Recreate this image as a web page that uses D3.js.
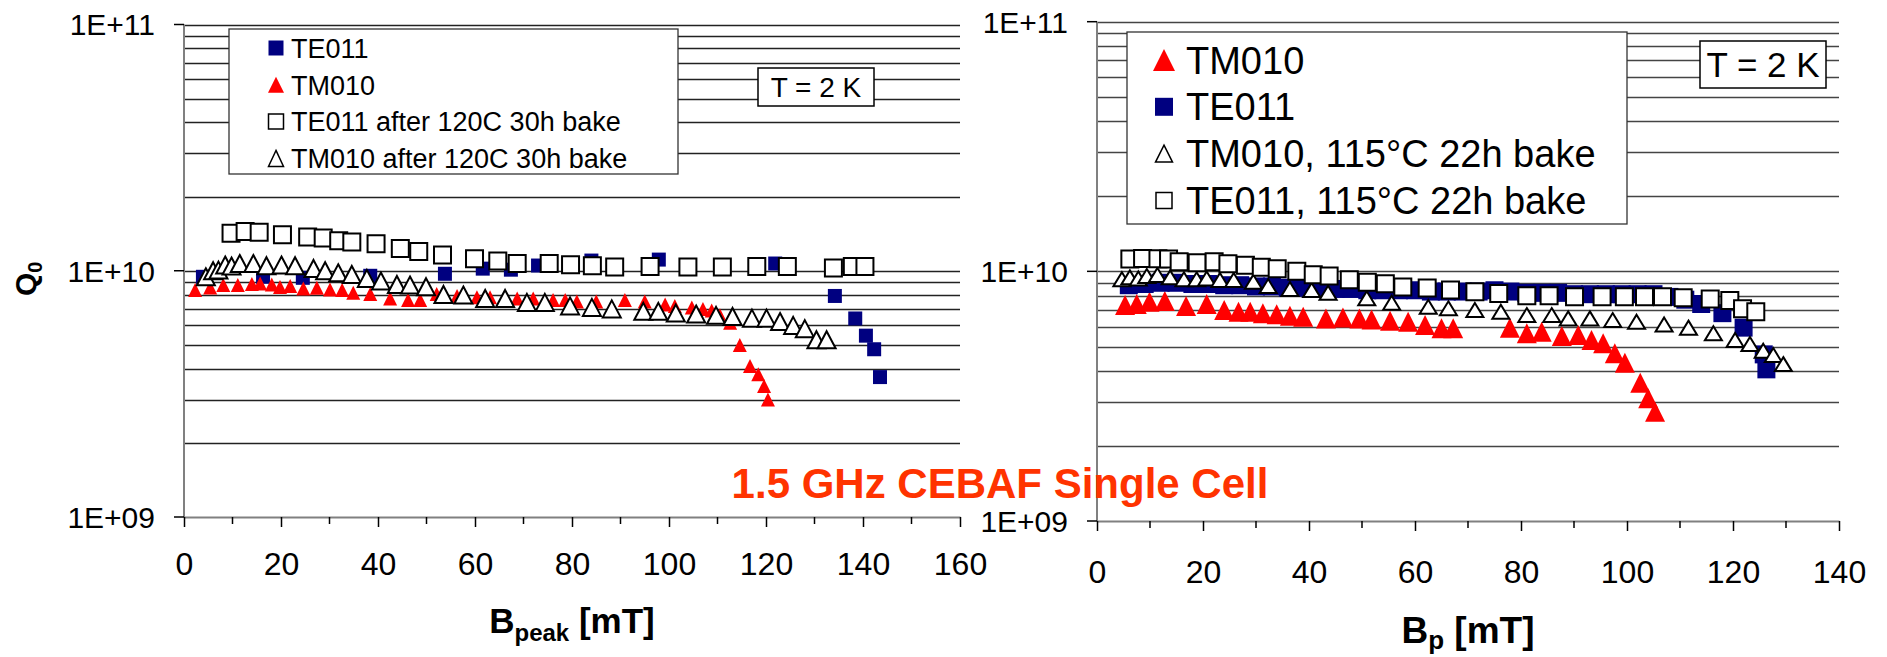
<!DOCTYPE html>
<html>
<head>
<meta charset="utf-8">
<script src="https://cdn.jsdelivr.net/npm/d3@7"></script>
<style>
  body { margin: 0; background: #fff; }
  text { font-family: "Liberation Sans", Arial, sans-serif; }
</style>
</head>
<body>
<div id="chart"></div>
<script>
// ---- data: [B (mT), Q0] ----
var leftTE011 = [[3.9,9.45e9],[16.3,9.45e9],[24.5,9.36e9],[38.4,9.54e9],[53.8,9.72e9],[61.6,1.02e10],[67.4,1.01e10],
  [73,1.05e10],[84,1.10e10],[97.9,1.11e10],[121.9,1.07e10],[134.2,7.9e9],[138.4,6.4e9],[140.6,5.45e9],[142.3,4.8e9],[143.5,3.7e9]];

var leftTM010 = [[2.3,8.35e9],[5.4,8.55e9],[8.1,8.75e9],[11.1,8.75e9],[14,8.83e9],[15.7,8.88e9],[18.1,8.8e9],[19.8,8.6e9],
  [21.9,8.67e9],[24.6,8.47e9],[27.4,8.53e9],[30.1,8.4e9],[32.6,8.35e9],[34.9,8.14e9],[38.4,8.04e9],[42.5,7.72e9],[46.2,7.6e9],
  [48.7,7.6e9],[52.1,8.04e9],[56.3,7.9e9],[60.4,7.8e9],[63.1,7.8e9],[68.7,7.72e9],[72,7.72e9],[76.1,7.6e9],[78.6,7.6e9],
  [81,7.5e9],[85,7.5e9],[90.9,7.6e9],[95,7.5e9],[99.2,7.3e9],[101.2,7.2e9],[104.7,7.1e9],[107,7.0e9],[108.8,6.9e9],
  [110.5,6.6e9],[112.6,6.15e9],[114.6,5.0e9],[116.7,4.1e9],[118.4,3.8e9],[119.6,3.4e9],[120.4,3.0e9]];

var leftTE011Bake = [[9.7,1.42e10],[12.6,1.443e10],[15.5,1.435e10],[20.3,1.4e10],[25.5,1.37e10],[28.7,1.358e10],[31.9,1.323e10],
  [34.6,1.308e10],[39.6,1.287e10],[44.6,1.232e10],[48.4,1.198e10],[53.3,1.158e10],[59.9,1.119e10],[64.7,1.095e10],[68.7,1.07e10],
  [75.3,1.07e10],[79.7,1.058e10],[84.2,1.048e10],[88.8,1.035e10],[96.1,1.04e10],[103.9,1.035e10],[111,1.035e10],[118.1,1.04e10],
  [124.4,1.04e10],[133.9,1.025e10],[137.8,1.04e10],[140.4,1.04e10]];

var leftTM010Bake = [[4.5,9.45e9],[6,1.0e10],[7.1,1.006e10],[8.5,1.055e10],[9.8,1.045e10],[11.5,1.07e10],[14.3,1.07e10],[17,1.048e10],
  [20.1,1.055e10],[22.9,1.048e10],[26.7,1.022e10],[29.1,1.0e10],[31.8,9.81e9],[34.6,9.66e9],[37.7,9.31e9],[40.6,9.08e9],[43.9,8.8e9],
  [46.6,8.75e9],[49.9,8.61e9],[53.5,8.01e9],[57.6,7.97e9],[62.1,7.72e9],[66.2,7.72e9],[70.7,7.44e9],[74.4,7.44e9],[79.6,7.2e9],
  [84.1,7.1e9],[88.2,7.0e9],[94.7,6.84e9],[97.8,6.84e9],[101.4,6.73e9],[105.6,6.67e9],[109.7,6.59e9],[113.1,6.52e9],[117.1,6.42e9],
  [120.1,6.42e9],[122.9,6.22e9],[125.6,6.0e9],[128,5.82e9],[130.4,5.25e9],[132.5,5.25e9]];

var rightTM010 = [[5.3,7.33e9],[7.5,7.4e9],[9.9,7.56e9],[12.8,7.6e9],[16.8,7.26e9],[20.7,7.4e9],[24,7.0e9],[26.7,6.89e9],[28.9,6.89e9],
  [31.3,6.79e9],[33.9,6.74e9],[36.4,6.64e9],[38.9,6.58e9],[43.2,6.48e9],[46.4,6.54e9],[49.5,6.48e9],[51.8,6.42e9],[55.3,6.34e9],
  [58.7,6.28e9],[61.9,6.1e9],[65,5.91e9],[67.2,5.91e9],[77.9,5.95e9],[81.1,5.65e9],[83.9,5.73e9],[87.7,5.51e9],[90.8,5.56e9],
  [93.3,5.31e9],[95.5,5.15e9],[97.7,4.7e9],[99.6,4.3e9],[102.5,3.58e9],[104,3.1e9],[105.3,2.74e9]];

var rightTE011 = [[6,8.8e9],[9,8.9e9],[12,9.0e9],[15,9.0e9],[18,8.9e9],[21,8.9e9],[24,8.8e9],[27,8.8e9],[30,8.7e9],[33,8.7e9],
  [36,8.6e9],[39,8.6e9],[42,8.5e9],[45,8.5e9],[48,8.5e9],[51,8.4e9],[54,8.4e9],[57,8.4e9],[60,8.4e9],[63,8.3e9],[66,8.3e9],
  [69,8.3e9],[72,8.3e9],[75,8.4e9],[78,8.3e9],[81,8.2e9],[84,8.2e9],[87,8.2e9],[90,8.1e9],[93,8.1e9],[96,8.1e9],[99,8.1e9],
  [102,8.1e9],[105,8.1e9],[108,7.9e9],[111,7.7e9],[114,7.4e9],[118,6.8e9],[122,5.95e9],[125.8,4.65e9],[126.3,4.05e9]];

var rightTM010Bake = [[4.7,9.3e9],[6.2,9.46e9],[7.8,9.37e9],[9.4,9.58e9],[11.4,9.67e9],[13.8,9.46e9],[16.4,9.29e9],[18.8,9.29e9],
  [20.7,9.37e9],[23.2,9.23e9],[25.8,9.23e9],[29.5,9.09e9],[32.3,8.73e9],[36.4,8.49e9],[40.5,8.42e9],[43.6,8.21e9],[50.9,7.8e9],
  [55.6,7.49e9],[62.5,7.21e9],[66.3,7.11e9],[71.3,7.0e9],[76.2,6.89e9],[81.1,6.68e9],[85.8,6.68e9],[88.9,6.48e9],[93,6.48e9],
  [97.3,6.38e9],[101.8,6.28e9],[107,6.13e9],[111.6,5.95e9],[116.3,5.65e9],[120.4,5.31e9],[123.2,5.12e9],[125.7,4.81e9],
  [127.6,4.62e9],[129.5,4.25e9]];

var rightTE011Bake = [[6.2,1.12e10],[8.6,1.127e10],[11.5,1.123e10],[13.5,1.12e10],[15.5,1.092e10],[18.9,1.082e10],[22.1,1.092e10],
  [24.7,1.073e10],[28,1.057e10],[31,1.038e10],[34,1.024e10],[37.7,1.0e10],[40.8,9.69e9],[43.8,9.58e9],[47.6,9.26e9],[51,9.04e9],
  [54.4,8.92e9],[57.7,8.65e9],[62.3,8.57e9],[66.7,8.42e9],[71.3,8.29e9],[75.8,8.16e9],[81.1,7.99e9],[85.3,7.99e9],[90.1,7.91e9],
  [95.3,7.91e9],[99.5,7.91e9],[103.3,7.91e9],[106.7,7.91e9],[110.6,7.84e9],[115.7,7.75e9],[119.4,7.65e9],[121.8,7.08e9],[124.3,6.89e9]];

// tick values / labels
var yTickValues = [1e9, 1e10, 1e11];
var yTickLabels = ["1E+09", "1E+10", "1E+11"];
var leftXTicks = [0, 20, 40, 60, 80, 100, 120, 140, 160];
var rightXTicks = [0, 20, 40, 60, 80, 100, 120, 140];

var leftLegend = ["TE011", "TM010", "TE011 after 120C 30h bake", "TM010 after 120C 30h bake"];
var rightLegend = ["TM010", "TE011", "TM010, 115\u00B0C 22h bake", "TE011, 115\u00B0C 22h bake"];

var FONT = "Liberation Sans, Arial, sans-serif";

var svg = d3.select("#chart")
    .append("svg")
    .attr("width", 1887)
    .attr("height", 657);

// marker shapes, centred on bbox
function triPath(w, h) { return "M0," + (-h/2) + "L" + (w/2) + "," + (h/2) + "L" + (-w/2) + "," + (h/2) + "Z"; }
function sqPath(s) { return "M" + (-s/2) + "," + (-s/2) + "h" + s + "v" + s + "h" + (-s) + "Z"; }

var styles = {
    navySq: function(s) { return {d: sqPath(s), fill: "#000080", stroke: "none", sw: 0}; },
    redTri: function(s) { return {d: triPath(s, s), fill: "#ff0000", stroke: "none", sw: 0}; },
    openSq: function(s) { return {d: sqPath(s), fill: "#fff", stroke: "#000", sw: 2}; },
    openTri: function(s, h) { return {d: triPath(s, h || s), fill: "#fff", stroke: "#000", sw: 2}; }
};

function drawPanel(p) {
    var g = svg.append("g");
    var x = p.x, y = p.y;
    var x0 = x.range()[0], x1 = x.range()[1];

    // horizontal gridlines (log minor + major)
    var grid = [];
    [1e9, 1e10].forEach(function(dec) { for (var k = 2; k <= 10; k++) grid.push(k * dec); });
    g.selectAll(".grid")
        .data(grid)
        .enter().append("line")
        .attr("x1", x0).attr("x2", x1)
        .attr("y1", function(d) { return Math.round(y(d)) + 0.5; })
        .attr("y2", function(d) { return Math.round(y(d)) + 0.5; })
        .attr("stroke", p.gridColor)
        .attr("stroke-width", 1.3);

    // y axis
    g.append("line")
        .attr("x1", x0).attr("x2", x0)
        .attr("y1", y(1e9)).attr("y2", y(1e11))
        .attr("stroke", "#808080").attr("stroke-width", 2);
    g.selectAll(".ytick")
        .data(yTickValues)
        .enter().append("line")
        .attr("x1", x0 - 10).attr("x2", x0)
        .attr("y1", function(d) { return y(d); })
        .attr("y2", function(d) { return y(d); })
        .attr("stroke", "#000").attr("stroke-width", 1.5);
    g.selectAll(".ylab")
        .data(yTickValues)
        .enter().append("text")
        .attr("x", x0 - 29)
        .attr("y", function(d) { return y(d); })
        .attr("dy", "0.36em")
        .attr("text-anchor", "end")
        .attr("font-size", 30)
        .text(function(d, i) { return yTickLabels[i]; });

    // x axis
    var ax = g.append("g")
        .attr("transform", "translate(0," + y(1e9) + ")")
        .call(d3.axisBottom(x).tickValues(p.xTicks).tickSize(10).tickSizeOuter(0).tickFormat(d3.format("d")))
        .attr("font-family", FONT)
        .attr("font-size", 32);
    ax.select(".domain").attr("stroke", "#808080").attr("stroke-width", 2);
    ax.selectAll(".tick line").attr("stroke", "#000").attr("stroke-width", 1.5);
    ax.selectAll(".tick text").attr("y", p.labelOffset).attr("dy", "0.36em").attr("fill", "#000");

    var minor = p.xTicks.slice(0, -1).map(function(d, i) { return (d + p.xTicks[i + 1]) / 2; });
    g.selectAll(".mtick")
        .data(minor)
        .enter().append("line")
        .attr("x1", function(d) { return x(d); })
        .attr("x2", function(d) { return x(d); })
        .attr("y1", y(1e9)).attr("y2", y(1e9) + 7)
        .attr("stroke", "#000").attr("stroke-width", 1.5);

    // data series
    p.series.forEach(function(s) {
        var st = s.style;
        g.append("g").selectAll("path")
            .data(s.data)
            .enter().append("path")
            .attr("transform", function(d) { return "translate(" + x(d[0]) + "," + y(d[1]) + ")"; })
            .attr("d", st.d)
            .attr("fill", st.fill)
            .attr("stroke", st.stroke)
            .attr("stroke-width", st.sw);
    });

    // legend
    var L = p.legend;
    g.append("rect")
        .attr("x", L.x).attr("y", L.y).attr("width", L.w).attr("height", L.h)
        .attr("fill", "#fff").attr("stroke", "#333").attr("stroke-width", 1.3);
    L.items.forEach(function(it, i) {
        var cy = L.y + L.first + i * L.step;
        g.append("path")
            .attr("transform", "translate(" + L.mx + "," + cy + ")")
            .attr("d", it.style.d)
            .attr("fill", it.style.fill)
            .attr("stroke", it.style.stroke)
            .attr("stroke-width", it.style.sw * 0.75);
        g.append("text")
            .attr("x", L.tx).attr("y", cy)
            .attr("dy", "0.36em")
            .attr("font-size", L.fs)
            .text(it.label);
    });

    // T = 2 K box
    var T = p.tbox;
    g.append("rect")
        .attr("x", T.x).attr("y", T.y).attr("width", T.w).attr("height", T.h)
        .attr("fill", "#fff").attr("stroke", "#000").attr("stroke-width", 1.5);
    g.append("text")
        .attr("x", T.x + T.w / 2).attr("y", T.y + T.h / 2)
        .attr("dy", "0.36em")
        .attr("text-anchor", "middle")
        .attr("font-size", T.fs)
        .text("T = 2 K");

    return g;
}

// ---- left panel ----
var xL = d3.scaleLinear().domain([0, 160]).range([184, 960]);
var yL = d3.scaleLog().domain([1e9, 1e11]).range([517, 24.5]);

var gL = drawPanel({
    x: xL, y: yL, xTicks: leftXTicks, labelOffset: 46, gridColor: "#222",
    series: [
        {data: leftTE011, style: styles.navySq(14)},
        {data: leftTM010, style: styles.redTri(14)},
        {data: leftTE011Bake, style: styles.openSq(17)},
        {data: leftTM010Bake, style: styles.openTri(18, 17)}
    ],
    legend: {x: 229, y: 29, w: 449, h: 145, first: 19, step: 36.8, mx: 276, tx: 291, fs: 27,
        items: [
            {label: leftLegend[0], style: styles.navySq(15)},
            {label: leftLegend[1], style: styles.redTri(16)},
            {label: leftLegend[2], style: styles.openSq(15)},
            {label: leftLegend[3], style: styles.openTri(15, 16)}
        ]},
    tbox: {x: 758, y: 68, w: 116, h: 38, fs: 28}
});

// ---- right panel ----
var xR = d3.scaleLinear().domain([0, 140]).range([1097, 1839]);
var yR = d3.scaleLog().domain([1e9, 1e11]).range([521, 21.7]);

var gR = drawPanel({
    x: xR, y: yR, xTicks: rightXTicks, labelOffset: 50, gridColor: "#444",
    series: [
        {data: rightTM010, style: styles.redTri(20)},
        {data: rightTE011, style: styles.navySq(18)},
        {data: rightTM010Bake, style: styles.openTri(17, 14)},
        {data: rightTE011Bake, style: styles.openSq(17)}
    ],
    legend: {x: 1127, y: 32, w: 500, h: 192, first: 28, step: 46.8, mx: 1164, tx: 1186, fs: 38,
        items: [
            {label: rightLegend[0], style: styles.redTri(22)},
            {label: rightLegend[1], style: styles.navySq(18)},
            {label: rightLegend[2], style: styles.openTri(17, 17)},
            {label: rightLegend[3], style: styles.openSq(16)}
        ]},
    tbox: {x: 1700, y: 41, w: 126, h: 47, fs: 35}
});

// ---- axis titles ----
var tL = svg.append("text")
    .attr("x", (xL.range()[0] + xL.range()[1]) / 2)
    .attr("y", 633)
    .attr("text-anchor", "middle")
    .attr("font-weight", "bold")
    .attr("font-size", 35);
tL.append("tspan").text("B");
tL.append("tspan").attr("font-size", 24).attr("dy", 8).text("peak");
tL.append("tspan").attr("dy", -8).text(" [mT]");

var tR = svg.append("text")
    .attr("x", (xR.range()[0] + xR.range()[1]) / 2)
    .attr("y", 643)
    .attr("text-anchor", "middle")
    .attr("font-weight", "bold")
    .attr("font-size", 37);
tR.append("tspan").text("B");
tR.append("tspan").attr("font-size", 26).attr("dy", 6).text("p");
tR.append("tspan").attr("dy", -6).text(" [mT]");

var tQ = svg.append("text")
    .attr("transform", "translate(36," + (yL(1e10) + 8) + ") rotate(-90)")
    .attr("text-anchor", "middle")
    .attr("font-weight", "bold")
    .attr("font-size", 30);
tQ.append("tspan").text("Q");
tQ.append("tspan").attr("font-size", 20).attr("dy", 6).text("0");

// ---- title ----
svg.append("text")
    .attr("x", 1000)
    .attr("y", 498)
    .attr("text-anchor", "middle")
    .attr("font-weight", "bold")
    .attr("font-size", 42)
    .attr("fill", "#ff3300")
    .text("1.5 GHz CEBAF Single Cell");
</script>
</body>
</html>
